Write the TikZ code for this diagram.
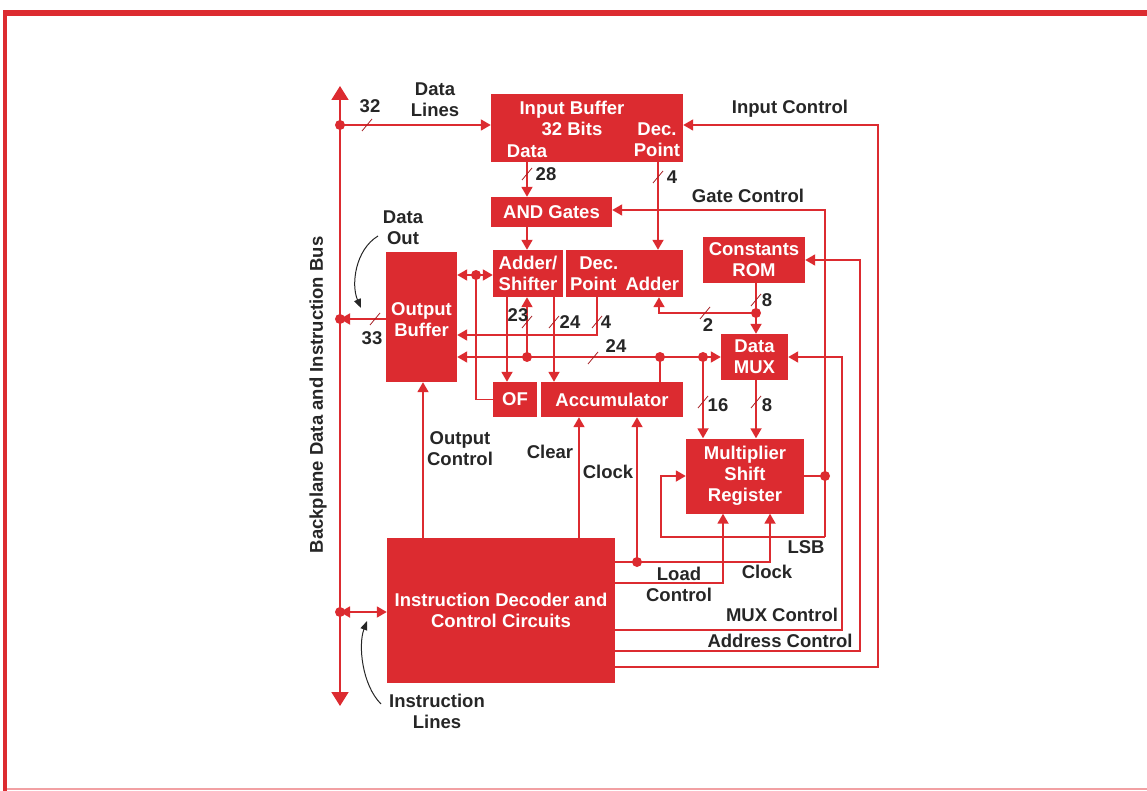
\documentclass[tikz,border=0pt]{standalone}
\usepackage{fontspec}
\setmainfont{Liberation Sans}
\usetikzlibrary{arrows.meta}
\definecolor{hpred}{HTML}{DC2B30}
\definecolor{hppink}{HTML}{F2A0A3}
\definecolor{ink}{HTML}{262626}
\newcommand{\lblfont}{\bfseries\fontsize{18.5}{21}\selectfont}
\tikzset{block/.style={fill=hpred,inner sep=0pt},
btext/.style={text=white,align=center,inner sep=0pt,font=\lblfont},
note/.style={text=ink,align=center,inner sep=0pt,font=\lblfont},
sig/.style={draw=hpred,line width=1.8pt},
arr/.style={sig,-{Triangle[length=10pt,width=11pt]}},
barr/.style={sig,{Triangle[length=10pt,width=11pt]}-{Triangle[length=10pt,width=11pt]}},
busline/.style={sig,{Triangle[length=14pt,width=17pt]}-{Triangle[length=14pt,width=17pt]}},
bitmark/.style={draw=hpred!75!black,line width=.8pt},
callout/.style={draw=ink,line width=1pt,-{Triangle[length=9pt,width=7pt]}}}

\begin{document}
\begin{tikzpicture}[x=1pt,y=-1pt]
\useasboundingbox (0,0) rectangle (1147,791);
% page frame
\fill[hpred] (3,10) rectangle (1147,16);
\fill[hpred] (3,10) rectangle (7,791);
\draw[hppink,line width=1.5pt] (7,789) -- (1147,789);

% blocks
\node[block,minimum width=192pt,minimum height=68pt] (inbuf) at (587,128) {};
\node[btext] (inbufT) at (572,118) {Input Buffer\\32 Bits};
\node[btext] (inbufD) at (527,151) {Data};
\node[btext] (inbufP) at (657,140) {Dec.\\Point};
\node[block,minimum width=121pt,minimum height=30pt] (andg) at (551.5,212) {};
\node[btext] at (andg) {AND Gates};
\node[block,minimum width=70pt,minimum height=47pt] (adder) at (528,273.5) {};
\node[btext] at (adder) {Adder/\\Shifter};
\node[block,minimum width=117pt,minimum height=47pt] (dpadd) at (624.5,273.5) {};
\node[btext,align=left] at (dpadd) {\enspace Dec.\\Point\enspace Adder};
\node[block,minimum width=102pt,minimum height=46pt] (rom) at (754,260) {};
\node[btext] at (rom) {Constants\\ROM};
\node[block,minimum width=67pt,minimum height=46pt] (mux) at (754.5,357) {};
\node[btext] at (mux) {Data\\MUX};
\node[block,minimum width=71pt,minimum height=130pt] (outbuf) at (421.5,317) {};
\node[btext] at (421.5,320) {Output\\Buffer};
\node[block,minimum width=44pt,minimum height=35pt] (of) at (515,399.5) {};
\node[btext] at (of) {OF};
\node[block,minimum width=142pt,minimum height=35pt] (acc) at (612,399.5) {};
\node[btext] at (acc) {Accumulator};
\node[block,minimum width=118pt,minimum height=75pt] (mult) at (745,476) {};
\node[btext] at (mult) {Multiplier\\Shift\\Register};
\node[block,minimum width=228pt,minimum height=145pt] (dec) at (501,610.5) {};
\node[btext] at (dec) {Instruction Decoder and\\Control Circuits};

% junctions and corners
\coordinate (jdata) at (340,125);
\coordinate (jout) at (340,319);
\coordinate (jinst) at (340,612);
\coordinate (jshift) at (476,275);
\coordinate (jadd) at (527,357);
\coordinate (jacc) at (660,357);
\coordinate (jmul) at (703,357);
\coordinate (jrom) at (756,313);
\coordinate (jlsb) at (825,476);
\coordinate (jclk) at (637,562);
\coordinate (xD) at (527,0);
\coordinate (xP) at (658,0);
\coordinate (xOF) at (507,0);
\coordinate (xAC) at (554,0);
\coordinate (xCL) at (579,0);
\coordinate (xOC) at (423,0);
\coordinate (cDP) at (597,335);
\coordinate (cDA) at (659,313);
\coordinate (cGate) at (825,210);
\coordinate (cLoop) at (661,537);
\coordinate (cIC) at (878,667);
\coordinate (cAC) at (860,651);
\coordinate (cMC) at (842,630);
\coordinate (cLC) at (723,583);
\coordinate (cCK) at (770,562);
\coordinate (bustop) at (340,86);
\coordinate (busbot) at (340,706);

% bus
\draw[busline] (bustop) -- (busbot);
\node[note,rotate=90] (buslbl) at (318,395) {Backplane Data and Instruction Bus};

% data path
\draw[arr] (jdata) -- (jdata -| inbuf.west);
\draw[arr] (inbuf.south -| xD) -- (andg.north -| xD);
\draw[arr] (andg.south -| xD) -- (adder.north -| xD);
\draw[arr] (inbuf.south -| xP) -- (dpadd.north -| xP);
\draw[arr] (outbuf.west |- jout) -- (jout);
\draw[barr] (outbuf.east |- jshift) -- (adder.west |- jshift);
\draw[sig] (jshift) -- (jshift |- of.west) -- (of.west);
\draw[arr] (adder.south -| xOF) -- (of.north -| xOF);
\draw[arr] (adder.south -| xAC) -- (acc.north -| xAC);
\draw[arr] (dpadd.south -| cDP) -- (cDP) -- (outbuf.east |- cDP);
\draw[barr] (outbuf.east |- jacc) -- (mux.west |- jacc);
\draw[sig] (acc.north -| jacc) -- (jacc);
\draw[arr] (jadd) -- (adder.south -| jadd);
\draw[arr] (jmul) -- (mult.north -| jmul);
\draw[arr] (rom.south -| jrom) -- (mux.north -| jrom);
\draw[arr] (jrom) -- (cDA) -- (dpadd.south -| cDA);
\draw[arr] (mux.south -| jrom) -- (mult.north -| jrom);
\draw[sig] (mult.east |- jlsb) -- (jlsb);
\draw[arr] (cLoop -| jlsb) -- (cGate) -- (andg.east |- cGate);
\draw[arr] (cLoop -| jlsb) -- (cLoop) -- (cLoop |- jlsb) -- (mult.west |- jlsb);

% control lines
\draw[barr] (jinst) -- (dec.west |- jinst);
\draw[arr] (dec.north -| xOC) -- (outbuf.south -| xOC);
\draw[arr] (dec.north -| xCL) -- (acc.south -| xCL);
\draw[arr] (dec.east |- cCK) -- (cCK) -- (cCK |- mult.south);
\draw[arr] (jclk) -- (jclk |- acc.south);
\draw[arr] (dec.east |- cLC) -- (cLC) -- (cLC |- mult.south);
\draw[arr] (dec.east |- cMC) -- (cMC) -- (cMC |- mux.east) -- (mux.east);
\draw[arr] (dec.east |- cAC) -- (cAC) -- (cAC |- rom.east) -- (rom.east);
\draw[arr] (dec.east |- cIC) -- (cIC) -- (cIC |- jdata) -- (inbuf.east |- jdata);

\foreach \j in {jdata,jout,jinst,jshift,jadd,jacc,jmul,jrom,jlsb,jclk}
  \fill[hpred] (\j) circle (5pt);

% bus widths
\draw[bitmark] (367,125) +(-5,6) -- +(5,-6);
\draw[bitmark] (527,174) +(-5,6) -- +(5,-6);
\draw[bitmark] (658,177) +(-5,6) -- +(5,-6);
\draw[bitmark] (375,319) +(-5,6) -- +(5,-6);
\draw[bitmark] (527,322) +(-5,6) -- +(5,-6);
\draw[bitmark] (554,322) +(-5,6) -- +(5,-6);
\draw[bitmark] (597,322) +(-5,6) -- +(5,-6);
\draw[bitmark] (593,358) +(-5,6) -- +(5,-6);
\draw[bitmark] (756,300) +(-5,6) -- +(5,-6);
\draw[bitmark] (705,313) +(-5,6) -- +(5,-6);
\draw[bitmark] (703,402) +(-5,6) -- +(5,-6);
\draw[bitmark] (756,402) +(-5,6) -- +(5,-6);
\node[note] (l32) at (370,106) {32};
\node[note] (l28) at (546,174) {28};
\node[note] (l4a) at (672,177) {4};
\node[note] (l33) at (372,338) {33};
\node[note] (l23) at (518,315) {23};
\node[note] (l24a) at (570,322) {24};
\node[note] (l4b) at (606,322) {4};
\node[note] (l24b) at (616,346) {24};
\node[note] (l8a) at (767,300) {8};
\node[note] (l2) at (708,325) {2};
\node[note] (l16) at (718,405) {16};
\node[note] (l8b) at (767,405) {8};

% signal labels
\node[note] (lDataLines) at (435,100) {Data\\Lines};
\node[note] (lInCtl) at (790,109) {Input Control};
\node[note] (lGate) at (748,196) {Gate Control};
\node[note] (lDataOut) at (403,228) {Data\\Out};
\node[note] (lOutCtl) at (460,449) {Output\\Control};
\node[note] (lClear) at (550,452) {Clear};
\node[note] (lClock) at (608,472) {Clock};
\node[note] (lLSB) at (806,547) {LSB};
\node[note] (lLoad) at (679,584) {Load\\Control};
\node[note] (lClock2) at (767,572) {Clock};
\node[note] (lMuxCtl) at (782,615) {MUX Control};
\node[note] (lAddrCtl) at (780,641) {Address Control};
\node[note] (lInstr) at (437,711) {Instruction\\Lines};
\draw[callout] (378,236) .. controls (355,250) and (351,285) .. (361,308);
\draw[callout] (381,704) .. controls (362,685) and (358,645) .. (367,621);
\end{tikzpicture}
\end{document}
